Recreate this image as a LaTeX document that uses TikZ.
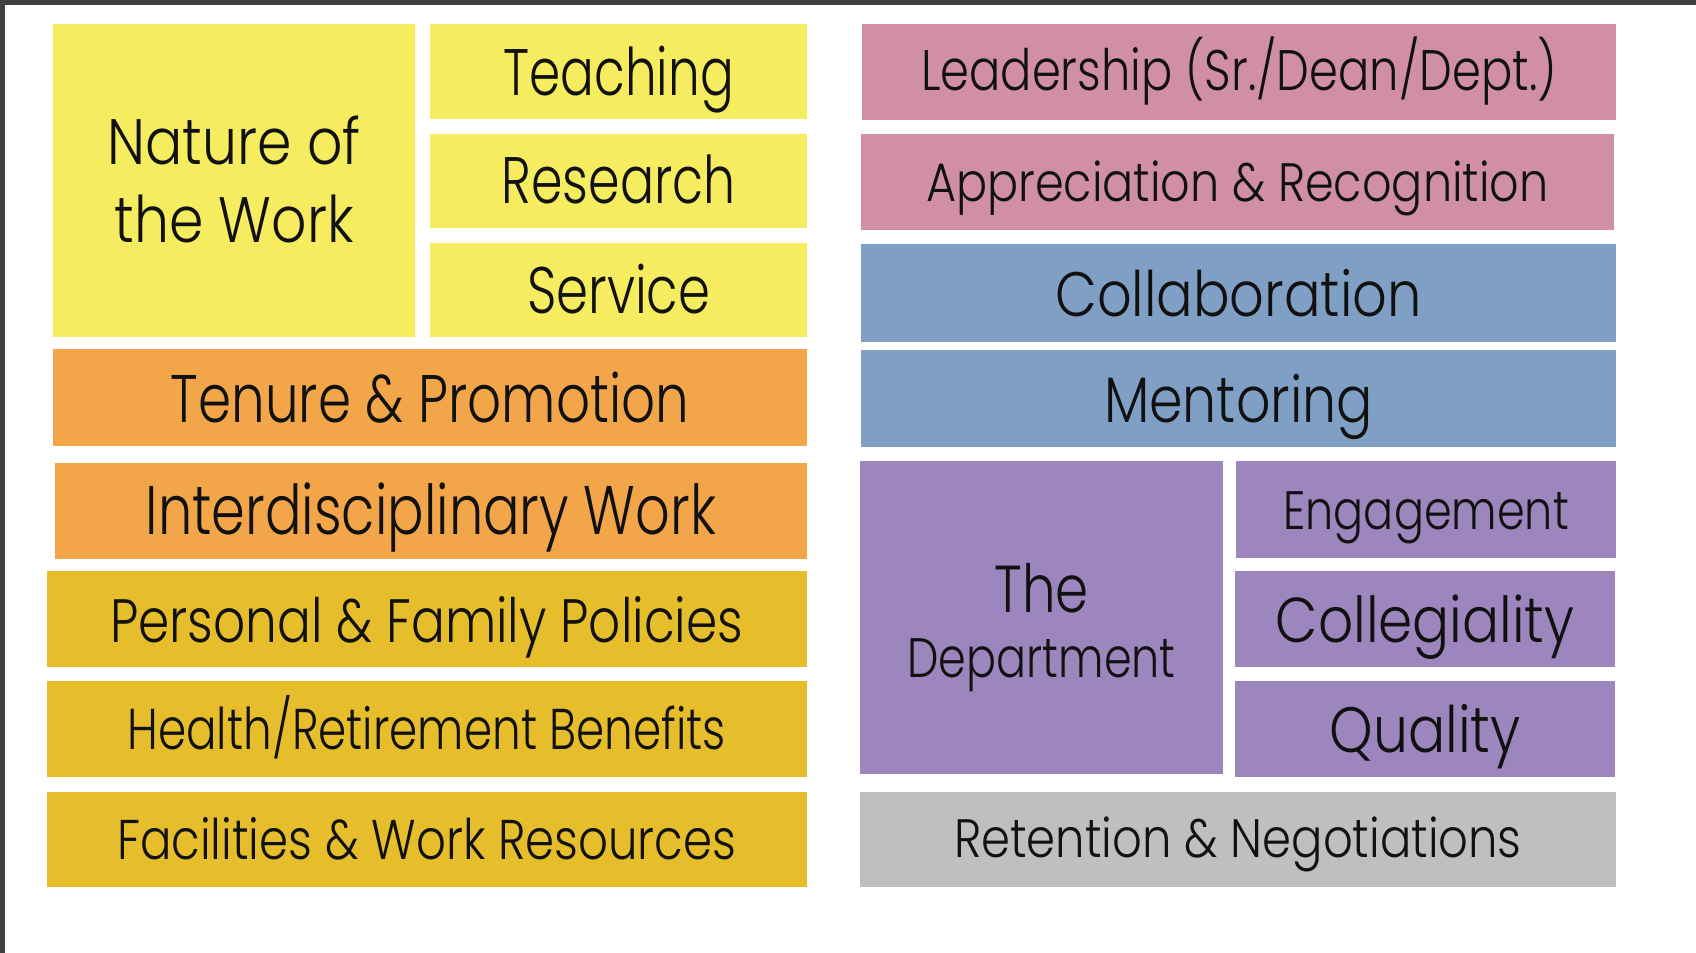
\documentclass[tikz,border=0pt]{standalone}
\usepackage{fontspec}
\newfontfamily\tilefont{Poppins Light}

\definecolor{frame}{RGB}{64,64,66}
\definecolor{lemon}{RGB}{245,236,95}
\definecolor{tangerine}{RGB}{242,166,73}
\definecolor{mustard}{RGB}{230,189,42}
\definecolor{rose}{RGB}{208,143,165}
\definecolor{steel}{RGB}{127,159,196}
\definecolor{lilac}{RGB}{157,133,189}
\definecolor{silver}{RGB}{191,191,191}
\definecolor{ink}{RGB}{17,17,17}

\begin{document}
\begin{tikzpicture}[x=0.5pt,y=-0.5pt,
  lbl/.style n args={3}{font=\tilefont\fontsize{#1}{#2}\selectfont, xscale=#3, transform shape,
    text=ink, align=center, inner sep=0pt, anchor=base}]
\useasboundingbox (0,0) rectangle (1568,881);
\fill [white] (0,0) rectangle (1568,881);

%Window edge
\fill [frame] (0,0) rectangle (1568,5) ;
\fill [frame] (0,0) rectangle (5,881) ;

%Left column tiles
\fill [lemon] (49,22) rectangle (384,312) ;
\fill [lemon] (398,22) rectangle (746,110) ;
\fill [lemon] (398,124) rectangle (746,211) ;
\fill [lemon] (398,225) rectangle (746,312) ;
\fill [tangerine] (49,323) rectangle (746,412) ;
\fill [tangerine] (51,428) rectangle (746,517) ;
\fill [mustard] (43,528) rectangle (746,617) ;
\fill [mustard] (43,630) rectangle (746,718) ;
\fill [mustard] (43,732) rectangle (746,820) ;

%Right column tiles
\fill [rose] (797,22) rectangle (1494,111) ;
\fill [rose] (796,124) rectangle (1492,213) ;
\fill [steel] (796,226) rectangle (1494,316) ;
\fill [steel] (796,324) rectangle (1494,413) ;
\fill [lilac] (795,426) rectangle (1131,716) ;
\fill [lilac] (1143,426) rectangle (1494,516) ;
\fill [lilac] (1142,528) rectangle (1493,617) ;
\fill [lilac] (1142,630) rectangle (1493,718) ;
\fill [silver] (795,732) rectangle (1494,820) ;

%Left column labels (anchored on the last baseline)
\node [lbl={29.7}{35.75}{0.86}] (nature) at (216.5,224) {Nature of\\the Work} ;
\node [lbl={30.4}{34}{0.761}] (teaching) at (572,88) {Teaching} ;
\node [lbl={30.4}{34}{0.769}] (research) at (572,188) {Research} ;
\node [lbl={30.4}{34}{0.78}] (service) at (572,289.6) {Service} ;
\node [lbl={31.1}{35}{0.79}] (tenure) at (397.5,391) {Tenure \& Promotion} ;
\node [lbl={31.8}{35}{0.788}] (interdisc) at (398.5,494) {Interdisciplinary Work} ;
\node [lbl={28.3}{32}{0.82}] (family) at (394.5,594) {Personal \& Family Policies} ;
\node [lbl={26.6}{30}{0.787}] (benefits) at (394.5,693) {Health/Retirement Benefits} ;
\node [lbl={25.9}{30}{0.833}] (facilities) at (394.5,794.7) {Facilities \& Work Resources} ;

%Right column labels
\node [lbl={26.4}{30}{0.812}] (leadership) at (1145.5,84) {Leadership (Sr./Dean/Dept.)} ;
\node [lbl={25}{30}{0.853}] (appreciation) at (1144,186) {Appreciation \& Recognition} ;
\node [lbl={29}{33}{0.864}] (collab) at (1145,293) {Collaboration} ;
\node [lbl={29.7}{33}{0.838}] (mentoring) at (1145,391) {Mentoring} ;
\node [lbl={25.7}{30}{0.8}] (dept) at (963,626) {{\fontsize{30.7}{30}\selectfont The}\\Department} ;
\node [lbl={25}{30}{0.823}] (engagement) at (1318.5,490) {Engagement} ;
\node [lbl={29.3}{33}{0.867}] (collegiality) at (1317.5,594) {Collegiality} ;
\node [lbl={29.6}{33}{0.863}] (quality) at (1317.5,696) {Quality} ;
\node [lbl={25}{30}{0.86}] (retention) at (1144.5,793) {Retention \& Negotiations} ;

\end{tikzpicture}
\end{document}
